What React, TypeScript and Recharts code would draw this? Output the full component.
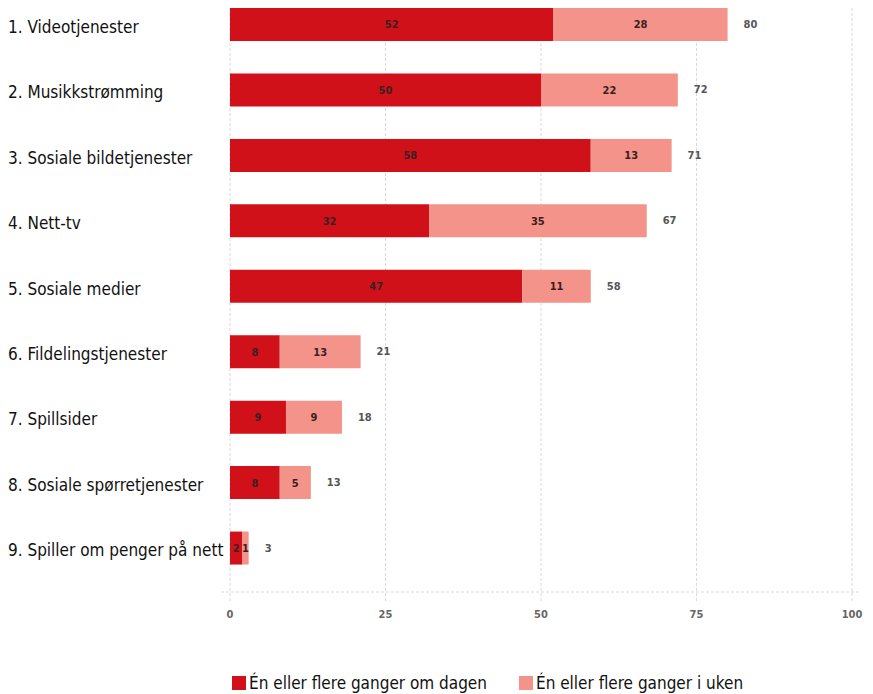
import { BarChart, Bar, XAxis, YAxis, CartesianGrid, LabelList } from 'recharts';

const categories = [
  '1. Videotjenester',
  '2. Musikkstrømming',
  '3. Sosiale bildetjenester',
  '4. Nett-tv',
  '5. Sosiale medier',
  '6. Fildelingstjenester',
  '7. Spillsider',
  '8. Sosiale spørretjenester',
  '9. Spiller om penger på nett',
];
const daily = [52, 50, 58, 32, 47, 8, 9, 8, 2];
const weekly = [28, 22, 13, 35, 11, 13, 9, 5, 1];
const totals = [80, 72, 71, 67, 58, 21, 18, 13, 3];
const xTicks = [0, 25, 50, 75, 100];

const DAILY_COLOR = '#d11119';
const WEEKLY_COLOR = '#f4938a';
const GRID_COLOR = '#d9d9d9';
const LABEL_FONT = '"DejaVu Sans Condensed", "DejaVu Sans", sans-serif';
const NUM_FONT = '"Liberation Sans Narrow", "DejaVu Sans Condensed", sans-serif';

const data = categories.map((name, i) => ({
  name,
  daily: daily[i],
  weekly: weekly[i],
  total: totals[i],
}));

function CategoryTick({ y, payload }: any) {
  return (
    <text x={8} y={y} dy={2} dominantBaseline="central" textAnchor="start" fontSize={17} fill="#111" fontFamily={LABEL_FONT}>
      {payload.value}
    </text>
  );
}

function TotalLabel({ x, y, width, height, value }: any) {
  return (
    <text x={x + width + 16} y={y + height / 2} dominantBaseline="central" fontSize={11} fontWeight="bold" fill="#555" fontFamily={NUM_FONT}>
      {value}
    </text>
  );
}

// only the tick positions get a line, not the padded plot edges
function GridLine(props: any) {
  if (props.x1 < 226 || props.x1 > 856) return <g key={props.key} />;
  return <line key={props.key} x1={props.x1} x2={props.x2} y1={28} y2={622} stroke={GRID_COLOR} strokeDasharray="3 2" />;
}

export default function App() {
  return (
    <div style={{ position: 'absolute', left: 0, top: 0, width: 873, height: 694, overflow: 'hidden', background: '#fff' }}>
      <div style={{ position: 'absolute', left: 0, top: -20 }}>
        <BarChart
          width={873}
          height={714}
          data={data}
          layout="vertical"
          margin={{ top: 12, right: 13, bottom: 72, left: 0 }}
        >
          <CartesianGrid horizontal={false} vertical={GridLine} />
          <XAxis
            type="number"
            domain={[0, 100]}
            ticks={xTicks}
            padding={{ left: 9, right: 8 }}
            height={30}
            tickLine={false}
            tickMargin={12}
            axisLine={{ stroke: GRID_COLOR, strokeDasharray: '3 2' }}
            tick={{ fontSize: 11, fontWeight: 'bold', fill: '#666', fontFamily: NUM_FONT }}
          />
          <YAxis
            type="category"
            dataKey="name"
            width={221}
            padding={{ top: 0, bottom: 11 }}
            axisLine={false}
            tickLine={false}
            tick={<CategoryTick />}
            interval={0}
          />
          <Bar dataKey="daily" stackId="a" fill={DAILY_COLOR} barSize={33} isAnimationActive={false}>
            <LabelList dataKey="daily" position="center" fontSize={11} fontWeight="bold" fill="#3a2020" fontFamily={NUM_FONT} />
          </Bar>
          <Bar dataKey="weekly" stackId="a" fill={WEEKLY_COLOR} barSize={33} isAnimationActive={false}>
            <LabelList dataKey="weekly" position="center" fontSize={11} fontWeight="bold" fill="#3a2020" fontFamily={NUM_FONT} />
            <LabelList dataKey="total" content={<TotalLabel />} />
          </Bar>
        </BarChart>
      </div>
      <div
        style={{
          position: 'absolute',
          left: 232,
          top: 673,
          display: 'flex',
          alignItems: 'center',
          fontFamily: LABEL_FONT,
          fontSize: 17,
          color: '#111',
          whiteSpace: 'nowrap',
        }}
      >
        <span style={{ width: 14, height: 14, background: DAILY_COLOR, marginRight: 3 }} />
        <span style={{ marginRight: 32 }}>Én eller flere ganger om dagen</span>
        <span style={{ width: 14, height: 14, background: WEEKLY_COLOR, marginRight: 3 }} />
        <span>Én eller flere ganger i uken</span>
      </div>
    </div>
  );
}
